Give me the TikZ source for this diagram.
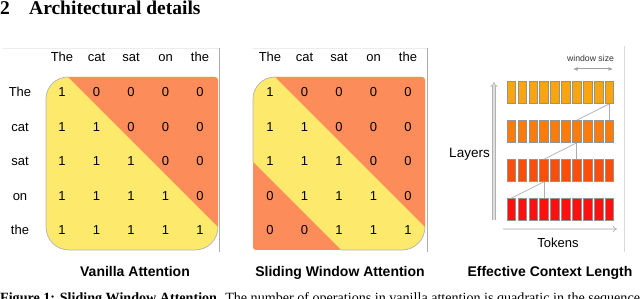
\documentclass[tikz,border=0pt]{standalone}
\usepackage{fontspec}
\setmainfont{Liberation Serif}
\newfontfamily\arialfont{Liberation Sans}
\usetikzlibrary{arrows.meta}
\definecolor{cyel}{HTML}{FDE96C}
\definecolor{cora}{HTML}{FC8D5A}
\definecolor{rowA}{HTML}{FAA50F}
\definecolor{rowB}{HTML}{FB7C0A}
\definecolor{rowC}{HTML}{FB4E0A}
\definecolor{rowD}{HTML}{FE1010}
\begin{document}
\begin{tikzpicture}[x=1pt,y=-1pt,
  lbl/.style={font=\arialfont\fontsize{13}{13}\selectfont, inner sep=0pt, anchor=base},
  smalllbl/.style={font=\arialfont\fontsize{8.7}{9}\selectfont, inner sep=0pt, anchor=base, text=black!80},
  capt/.style={font=\arialfont\bfseries\fontsize{14}{14}\selectfont, inner sep=0pt, anchor=base},
  boxline/.style={draw=gray!60, line width=0.7pt},
  sep/.style={draw=gray!65, line width=0.8pt},
  sepfaint/.style={draw=gray!15, line width=0.6pt},
  tok/.style={draw=gray!85, line width=0.6pt, minimum width=8.6pt, minimum height=22pt, inner sep=0pt},
  conn/.style={draw=gray!65, line width=0.7pt},
  dblarrow/.style={draw=gray!60, double=gray!25, double distance=1.8pt, line width=0.7pt, -{Implies}},
  wsarrow/.style={draw=gray!75, line width=1pt, {Latex[length=4.5pt,width=4pt]}-{Latex[length=4.5pt,width=4pt]}},
  boxpathA/.style={insert path={(46,99) .. controls (46,86.85) and (55.85,77) .. (68,77) -- (215,77) .. controls (216.66,77) and (218,78.34) .. (218,80) -- (218,227) .. controls (218,239.7) and (207.7,250) .. (195,250) -- (69,250) .. controls (56.3,250) and (46,239.7) .. (46,227) -- cycle}},
  boxpathB/.style={insert path={(253,99) .. controls (253,86.85) and (262.85,77) .. (275,77) -- (422,77) .. controls (423.66,77) and (425,78.34) .. (425,80) -- (425,227) .. controls (425,239.7) and (414.7,250) .. (402,250) -- (256,250) .. controls (254.34,250) and (253,248.66) .. (253,247) -- cycle}}
]
\useasboundingbox (0,0) rectangle (640,299);
\clip (0,0) rectangle (640,299);

% section title
\node[anchor=base west, inner sep=0pt, font=\fontsize{19.5}{20}\selectfont\bfseries] (secnum) at (0,15) {2};
\node[anchor=base west, inner sep=0pt, font=\fontsize{19.5}{20}\selectfont\bfseries] (sectitle) at (29,15) {Architectural details};

% panel frames
\coordinate (s1a) at (3,48); \coordinate (s1b) at (219,48); \coordinate (s1c) at (219,252);
\coordinate (s2a) at (253,48); \coordinate (s2b) at (427,48); \coordinate (s2c) at (427,252);
\coordinate (s3a) at (624,46); \coordinate (s3b) at (624,252);
\draw[sepfaint] (s1a) -- (s1b);
\draw[sep] (s1b) -- (s1c);
\draw[sepfaint] (s2a) -- (s2b);
\draw[sep] (s2b) -- (s2c);
\draw[sepfaint, draw=gray!30] (s3a) -- (s3b);

% matrix 1
\begin{scope}
  \clip[boxpathA];
  \fill[cyel] (40,70) rectangle (225,255);
\end{scope}
\begin{scope}
  \clip (20,29) -- (280,289) -- (20,289) -- cycle;
  \draw[boxline, boxpathA];
\end{scope}
\begin{scope}
  \clip[boxpathA];
  \fill[cora] (58,67) -- (250,67) -- (250,259) -- cycle;
\end{scope}

% matrix 2
\begin{scope}
  \clip[boxpathB];
  \fill[cyel] (245,70) rectangle (432,255);
\end{scope}
\begin{scope}
  \clip (230,32) -- (460,262) -- (460,369) -- (230,139) -- cycle;
  \draw[boxline, boxpathB];
\end{scope}
\begin{scope}
  \clip[boxpathB];
  \fill[cora] (265,67) -- (460,67) -- (460,262) -- cycle;
  \fill[cora] (230,139) -- (370,279) -- (230,279) -- cycle;
\end{scope}

% headers and row labels
\foreach \w [count=\j] in {The,cat,sat,on,the} {
  \node[lbl] (h1-\j) at ({62+34.5*(\j-1)},61.5) {\w};
  \node[lbl] (h2-\j) at ({270+34.5*(\j-1)},61.5) {\w};
  \node[lbl] (r-\j) at (20,{96.6+34.5*(\j-1)}) {\w};
}

% cell values
\foreach \i in {1,...,5} {
  \foreach \j in {1,...,5} {
    \pgfmathtruncatemacro{\va}{(\i>=\j) ? 1 : 0}
    \pgfmathtruncatemacro{\vb}{((\i>=\j) && (\i-\j<=2)) ? 1 : 0}
    \node[lbl] (m1-\i-\j) at ({62+34.5*(\j-1)},{96.6+34.5*(\i-1)}) {\va};
    \node[lbl] (m2-\i-\j) at ({270+34.5*(\j-1)},{96.6+34.5*(\i-1)}) {\vb};
  }
}

% panel 3: tokens
\foreach \r/\c in {1/rowA,2/rowB,3/rowC,4/rowD} {
  \foreach \j in {1,...,10} {
    \node[tok, fill=\c] (b-\r-\j) at ({511.3+10.9*(\j-1)},{92.5+39*(\r-1)}) {};
  }
}
\draw[conn] (b-1-10.south) -- (b-2-7.north);
\draw[conn] (b-1-10.south) -- (b-2-10.north);
\draw[conn] (b-2-7.south) -- (b-3-4.north);
\draw[conn] (b-2-7.south) -- (b-3-7.north);
\draw[conn] (b-3-4.south) -- (b-4-1.north);
\draw[conn] (b-3-4.south) -- (b-4-4.north);

% window size
\node[smalllbl] (wslbl) at (590.5,62) {window size};
\coordinate (ws-l) at (573,69);
\coordinate (ws-r) at (613,69);
\draw[wsarrow] (ws-l) -- (ws-r);

% axes
\coordinate (lay-b) at (494,220);
\coordinate (lay-t) at (494,82);
\draw[dblarrow] (lay-b) -- (lay-t);
\node[lbl, font=\arialfont\fontsize{13.5}{14}\selectfont] (layers) at (469.5,158) {Layers};
\coordinate (tok-l) at (503,229);
\coordinate (tok-r) at (617,229);
\draw[dblarrow, double distance=1.3pt] (tok-l) -- (tok-r);
\node[lbl, font=\arialfont\fontsize{13}{13}\selectfont] (tokens) at (558,247.5) {Tokens};

% captions
\node[capt] (cap1) at (135,276.5) {Vanilla Attention};
\node[capt] (cap2) at (340,276.5) {Sliding Window Attention};
\node[capt] (cap3) at (550,276.5) {Effective Context Length};

% figure caption (cut off at bottom, as in the reference)
\node[anchor=base west, inner sep=0pt, font=\fontsize{14.1}{15}\selectfont] (figcap) at (0,302.5) {\textbf{Figure 1: Sliding Window Attention.} The number of operations in vanilla attention is quadratic in the sequence};
\end{tikzpicture}
\end{document}
